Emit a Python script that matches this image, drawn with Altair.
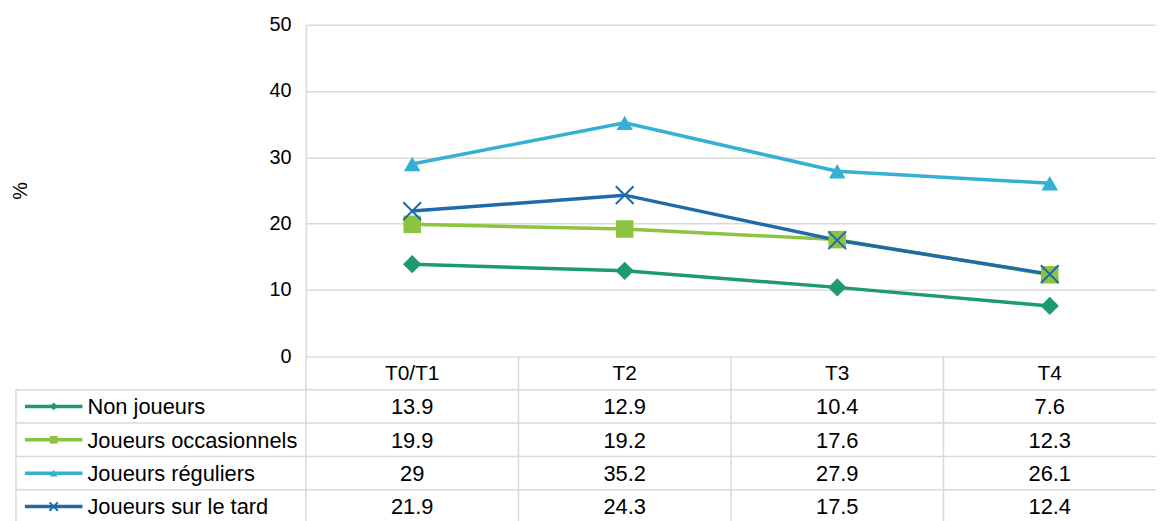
import altair as alt
import pandas as pd

# ---- data ----
categories = ["T0/T1", "T2", "T3", "T4"]
series = ["Non joueurs", "Joueurs occasionnels", "Joueurs réguliers", "Joueurs sur le tard"]
non_joueurs = [13.9, 12.9, 10.4, 7.6]
occasionnels = [19.9, 19.2, 17.6, 12.3]
reguliers = [29, 35.2, 27.9, 26.1]
sur_le_tard = [21.9, 24.3, 17.5, 12.4]
y_ticks = [0, 10, 20, 30, 40, 50]
colors = ["#1d9a72", "#8cc43f", "#36b0d2", "#1f6aa8"]

FONT = "Liberation Sans"
GRID = "#d9d9d9"
W = 856          # plot width
H_PLOT = 334     # height of the line plot part
H_TOT = 502      # plot + table
X_PATH = "M-1,-1L1,1M-1,1L1,-1"

all_values = [non_joueurs, occasionnels, reguliers, sur_le_tard]
recs = []
for s, vals in zip(series, all_values):
    for c, v in zip(categories, vals):
        recs.append({"serie": s, "cat": c, "val": v, "label": f"{v:g}", "row": s})
df = pd.DataFrame(recs)
header_df = pd.DataFrame({"cat": categories, "label": categories, "row": ["hdr"] * len(categories)})
legend_df = pd.DataFrame({"serie": series, "row": series})
cat_df = pd.DataFrame({"cat": categories})

x_scale = alt.Scale(type="band", domain=categories, paddingInner=0, paddingOuter=0)
row_scale = alt.Scale(type="band", domain=["hdr"] + series, range=[H_PLOT, H_TOT],
                      paddingInner=0, paddingOuter=0)
color_scale = alt.Scale(domain=series, range=colors)

def xc(band=0.5):
    return alt.X("cat:N", scale=x_scale, bandPosition=band, axis=None, sort=categories)

def yrow(band=0.5):
    return alt.Y("row:N", scale=row_scale, bandPosition=band, axis=None)

y_val = alt.Y(
    "val:Q",
    scale=alt.Scale(domain=[0, 50], range=[H_PLOT, 0], nice=False),
    axis=alt.Axis(values=y_ticks, grid=True, gridColor=GRID, gridWidth=1.5,
                  domainColor=GRID, domainWidth=1.5, ticks=False, labelPadding=15,
                  labelFontSize=20, labelFont=FONT, labelColor="#000",
                  title="%", titleFont=FONT, titleFontSize=20, titleFontWeight="normal",
                  titleColor="#000", titleAngle=-90, titleX=-287, titleY=H_PLOT / 2,
                  titleBaseline="middle", titleAlign="center"),
)

color_enc = alt.Color("serie:N", scale=color_scale, legend=None)

lines = alt.Chart(df).mark_line(strokeWidth=3.5).encode(x=xc(), y=y_val, color=color_enc)

pts = alt.Chart(df).transform_filter(
    alt.FieldOneOfPredicate(field="serie", oneOf=series[:3])
).mark_point(filled=True, opacity=1).encode(
    x=xc(), y=y_val, color=color_enc,
    shape=alt.Shape("serie:N", scale=alt.Scale(domain=series[:3],
                    range=["diamond", "square", "triangle-up"]), legend=None),
    size=alt.Size("serie:O", scale=alt.Scale(domain=series[:3], range=[340, 280, 480]),
                  legend=None),
)

xpts = alt.Chart(df).transform_filter(
    alt.FieldEqualPredicate(field="serie", equal=series[3])
).mark_point(shape=X_PATH, filled=False, strokeWidth=2, size=320, opacity=1).encode(
    x=xc(), y=y_val, color=color_enc,
)

plot = alt.layer(lines, pts, xpts)

# ---- table ----
hlines = alt.Chart(legend_df).mark_rule(color=GRID, strokeWidth=1.5).encode(
    y=yrow(0), x=alt.value(-292), x2=alt.value(W))
vlines = alt.Chart(cat_df).mark_rule(color=GRID, strokeWidth=1.5).encode(
    x=xc(0), y=alt.value(H_PLOT), y2=alt.value(H_TOT))
lborder = alt.Chart(legend_df.head(1)).mark_rule(color=GRID, strokeWidth=1.5).encode(
    x=alt.value(-292), y=yrow(0), y2=alt.value(H_TOT))

val_text = alt.Chart(df).mark_text(font=FONT, fontSize=22, color="#000", baseline="middle", dy=1).encode(
    x=xc(), y=yrow(), text="label:N")
head_text = alt.Chart(header_df).mark_text(font=FONT, fontSize=21, color="#000", baseline="middle", dy=1).encode(
    x=xc(), y=yrow(), text="label:N")

leg_line = alt.Chart(legend_df).mark_rule(strokeWidth=3.5).encode(
    x=alt.value(-283), x2=alt.value(-225), y=yrow(), color=color_enc)
leg_pts = alt.Chart(legend_df).transform_filter(
    alt.FieldOneOfPredicate(field="serie", oneOf=series[:3])
).mark_point(filled=True, opacity=1).encode(
    x=alt.value(-254), y=yrow(), color=color_enc,
    shape=alt.Shape("serie:N", scale=alt.Scale(domain=series[:3],
                    range=["diamond", "square", "triangle-up"]), legend=None),
    size=alt.Size("serie:O", scale=alt.Scale(domain=series[:3], range=[60, 60, 90]),
                  legend=None),
)
leg_x = alt.Chart(legend_df).transform_filter(
    alt.FieldEqualPredicate(field="serie", equal=series[3])
).mark_point(shape=X_PATH, filled=False, strokeWidth=2, size=70, opacity=1).encode(
    x=alt.value(-254), y=yrow(), color=color_enc)
leg_text = alt.Chart(legend_df).mark_text(font=FONT, fontSize=22, color="#000", align="left",
                                          baseline="middle", dy=1).encode(
    x=alt.value(-220), y=yrow(), text="serie:N")

table = alt.layer(hlines, vlines, lborder, val_text, head_text, leg_line, leg_pts, leg_x, leg_text)

chart = alt.layer(plot, table).resolve_scale(
    y="independent", shape="independent", size="independent"
).properties(
    width=W, height=H_TOT,
    autosize=alt.AutoSizeParams(type="none"),
    padding={"left": 300, "top": 15, "right": 0, "bottom": 0},
).configure_view(stroke=None)

chart.save("out.html", embed_options={"renderer": "svg", "actions": False})
